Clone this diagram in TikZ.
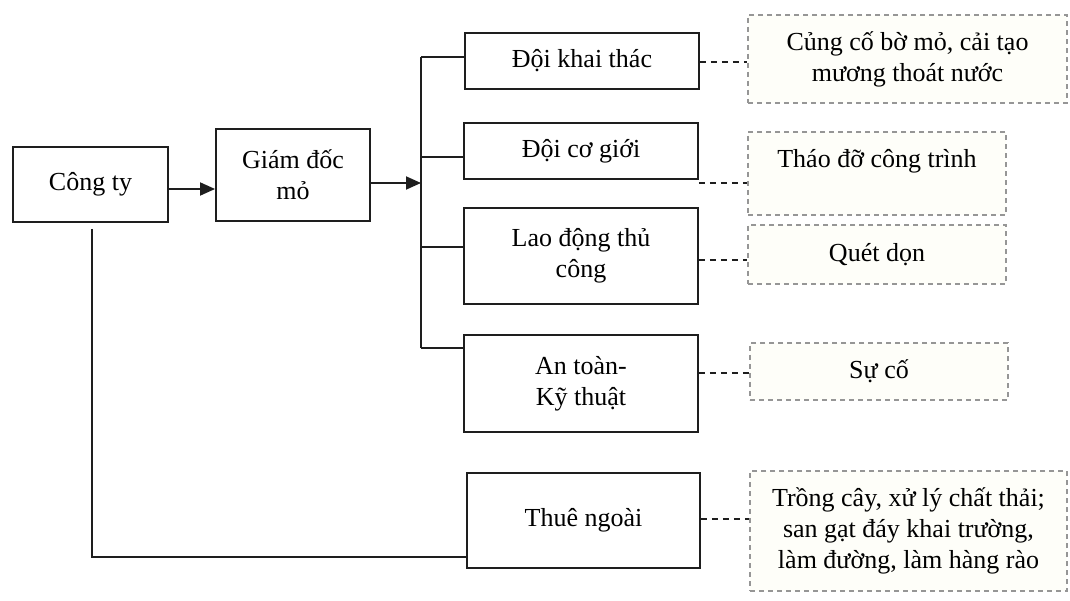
\documentclass[tikz,border=0pt]{standalone}
\usepackage{fontspec}
\setmainfont{Liberation Serif}
\usetikzlibrary{arrows.meta}
\definecolor{linec}{RGB}{30,30,30}
\definecolor{dashc}{RGB}{150,150,150}
\definecolor{creamfill}{RGB}{254,254,249}
\tikzset{
  txt/.style={font=\fontsize{26}{31}\selectfont, align=center, inner sep=0pt},
  sbox/.style={txt, draw=linec, line width=1.9pt, rectangle},
  dbox/.style={txt, draw=dashc, fill=creamfill, line width=1.2pt, dash pattern=on 5pt off 4pt, rectangle},
  conn/.style={draw=linec, line width=1.9pt},
  arr/.style={conn, -{Triangle[length=15pt,width=13pt]}},
  dconn/.style={draw=linec, line width=1.6pt, dash pattern=on 6pt off 5pt},
}
\begin{document}
\begin{tikzpicture}[x=1pt,y=-1pt]
\useasboundingbox (0,0) rectangle (1070,601);
% solid boxes
\node[sbox, minimum width=155pt, minimum height=75pt] (cty) at (90.5,184.5) {Công ty};
\node[sbox, minimum width=154pt, minimum height=92pt] (gd) at (293,175) {Giám đốc\\mỏ};
\node[sbox, minimum width=234pt, minimum height=56pt] (dkt) at (582,61) {Đội khai thác};
\node[sbox, minimum width=234pt, minimum height=56pt] (dcg) at (581,151) {Đội cơ giới};
\node[sbox, minimum width=234pt, minimum height=96pt] (ld) at (581,256) {Lao động thủ\\công};
\node[sbox, minimum width=234pt, minimum height=97pt] (at) at (581,383.5) {An toàn-\\Kỹ thuật};
\node[sbox, minimum width=233pt, minimum height=95pt] (tn) at (583.5,520.5) {Thuê ngoài};
% dashed boxes
\node[dbox, minimum width=319pt, minimum height=88pt] (d1) at (907.5,59) {Củng cố bờ mỏ, cải tạo\\mương thoát nước};
\node[dbox, minimum width=258pt, minimum height=83pt] (d2) at (877,173.5) {Tháo đỡ công trình\\\mbox{}};
\node[dbox, minimum width=258pt, minimum height=59pt] (d3) at (877,254.5) {Quét dọn};
\node[dbox, minimum width=258pt, minimum height=57pt] (d4) at (879,371.5) {Sự cố};
\node[dbox, minimum width=317pt, minimum height=120pt] (d5) at (908.5,531) {Trồng cây, xử lý chất thải;\\san gạt đáy khai trường,\\làm đường, làm hàng rào};
% helper coordinates
\coordinate (bus) at (421,183);
\coordinate (b1) at (421,57);
\coordinate (b2) at (421,157);
\coordinate (b3) at (421,247);
\coordinate (b4) at (421,348);
\coordinate (c1) at (92,557);
\coordinate (y1) at (0,62);
\coordinate (y2) at (0,183);
\coordinate (y3) at (0,260);
\coordinate (y4) at (0,373);
\coordinate (y5) at (0,519);
% arrows
\draw[arr] ([yshift=-4.5pt]cty.east) -- ([yshift=-4.5pt]cty.east -| gd.west);
\draw[arr] (gd.east |- bus) -- (bus);
% bus and branches
\draw[conn] (b1) -- (b4);
\draw[conn] (b1) -- (dkt.west |- b1);
\draw[conn] (b2) -- (dcg.west |- b2);
\draw[conn] (b3) -- (ld.west |- b3);
\draw[conn] (b4) -- (at.west |- b4);
% company to outsourcing
\draw[conn] ([xshift=1.5pt,yshift=-6pt]cty.south) -- (c1) -- (tn.west |- c1);
% dashed connectors
\draw[dconn] (dkt.east |- y1) -- (d1.west |- y1);
\draw[dconn] (dcg.east |- y2) -- (d2.west |- y2);
\draw[dconn] (ld.east |- y3) -- (d3.west |- y3);
\draw[dconn] (at.east |- y4) -- (d4.west |- y4);
\draw[dconn] (tn.east |- y5) -- (d5.west |- y5);
\end{tikzpicture}
\end{document}
